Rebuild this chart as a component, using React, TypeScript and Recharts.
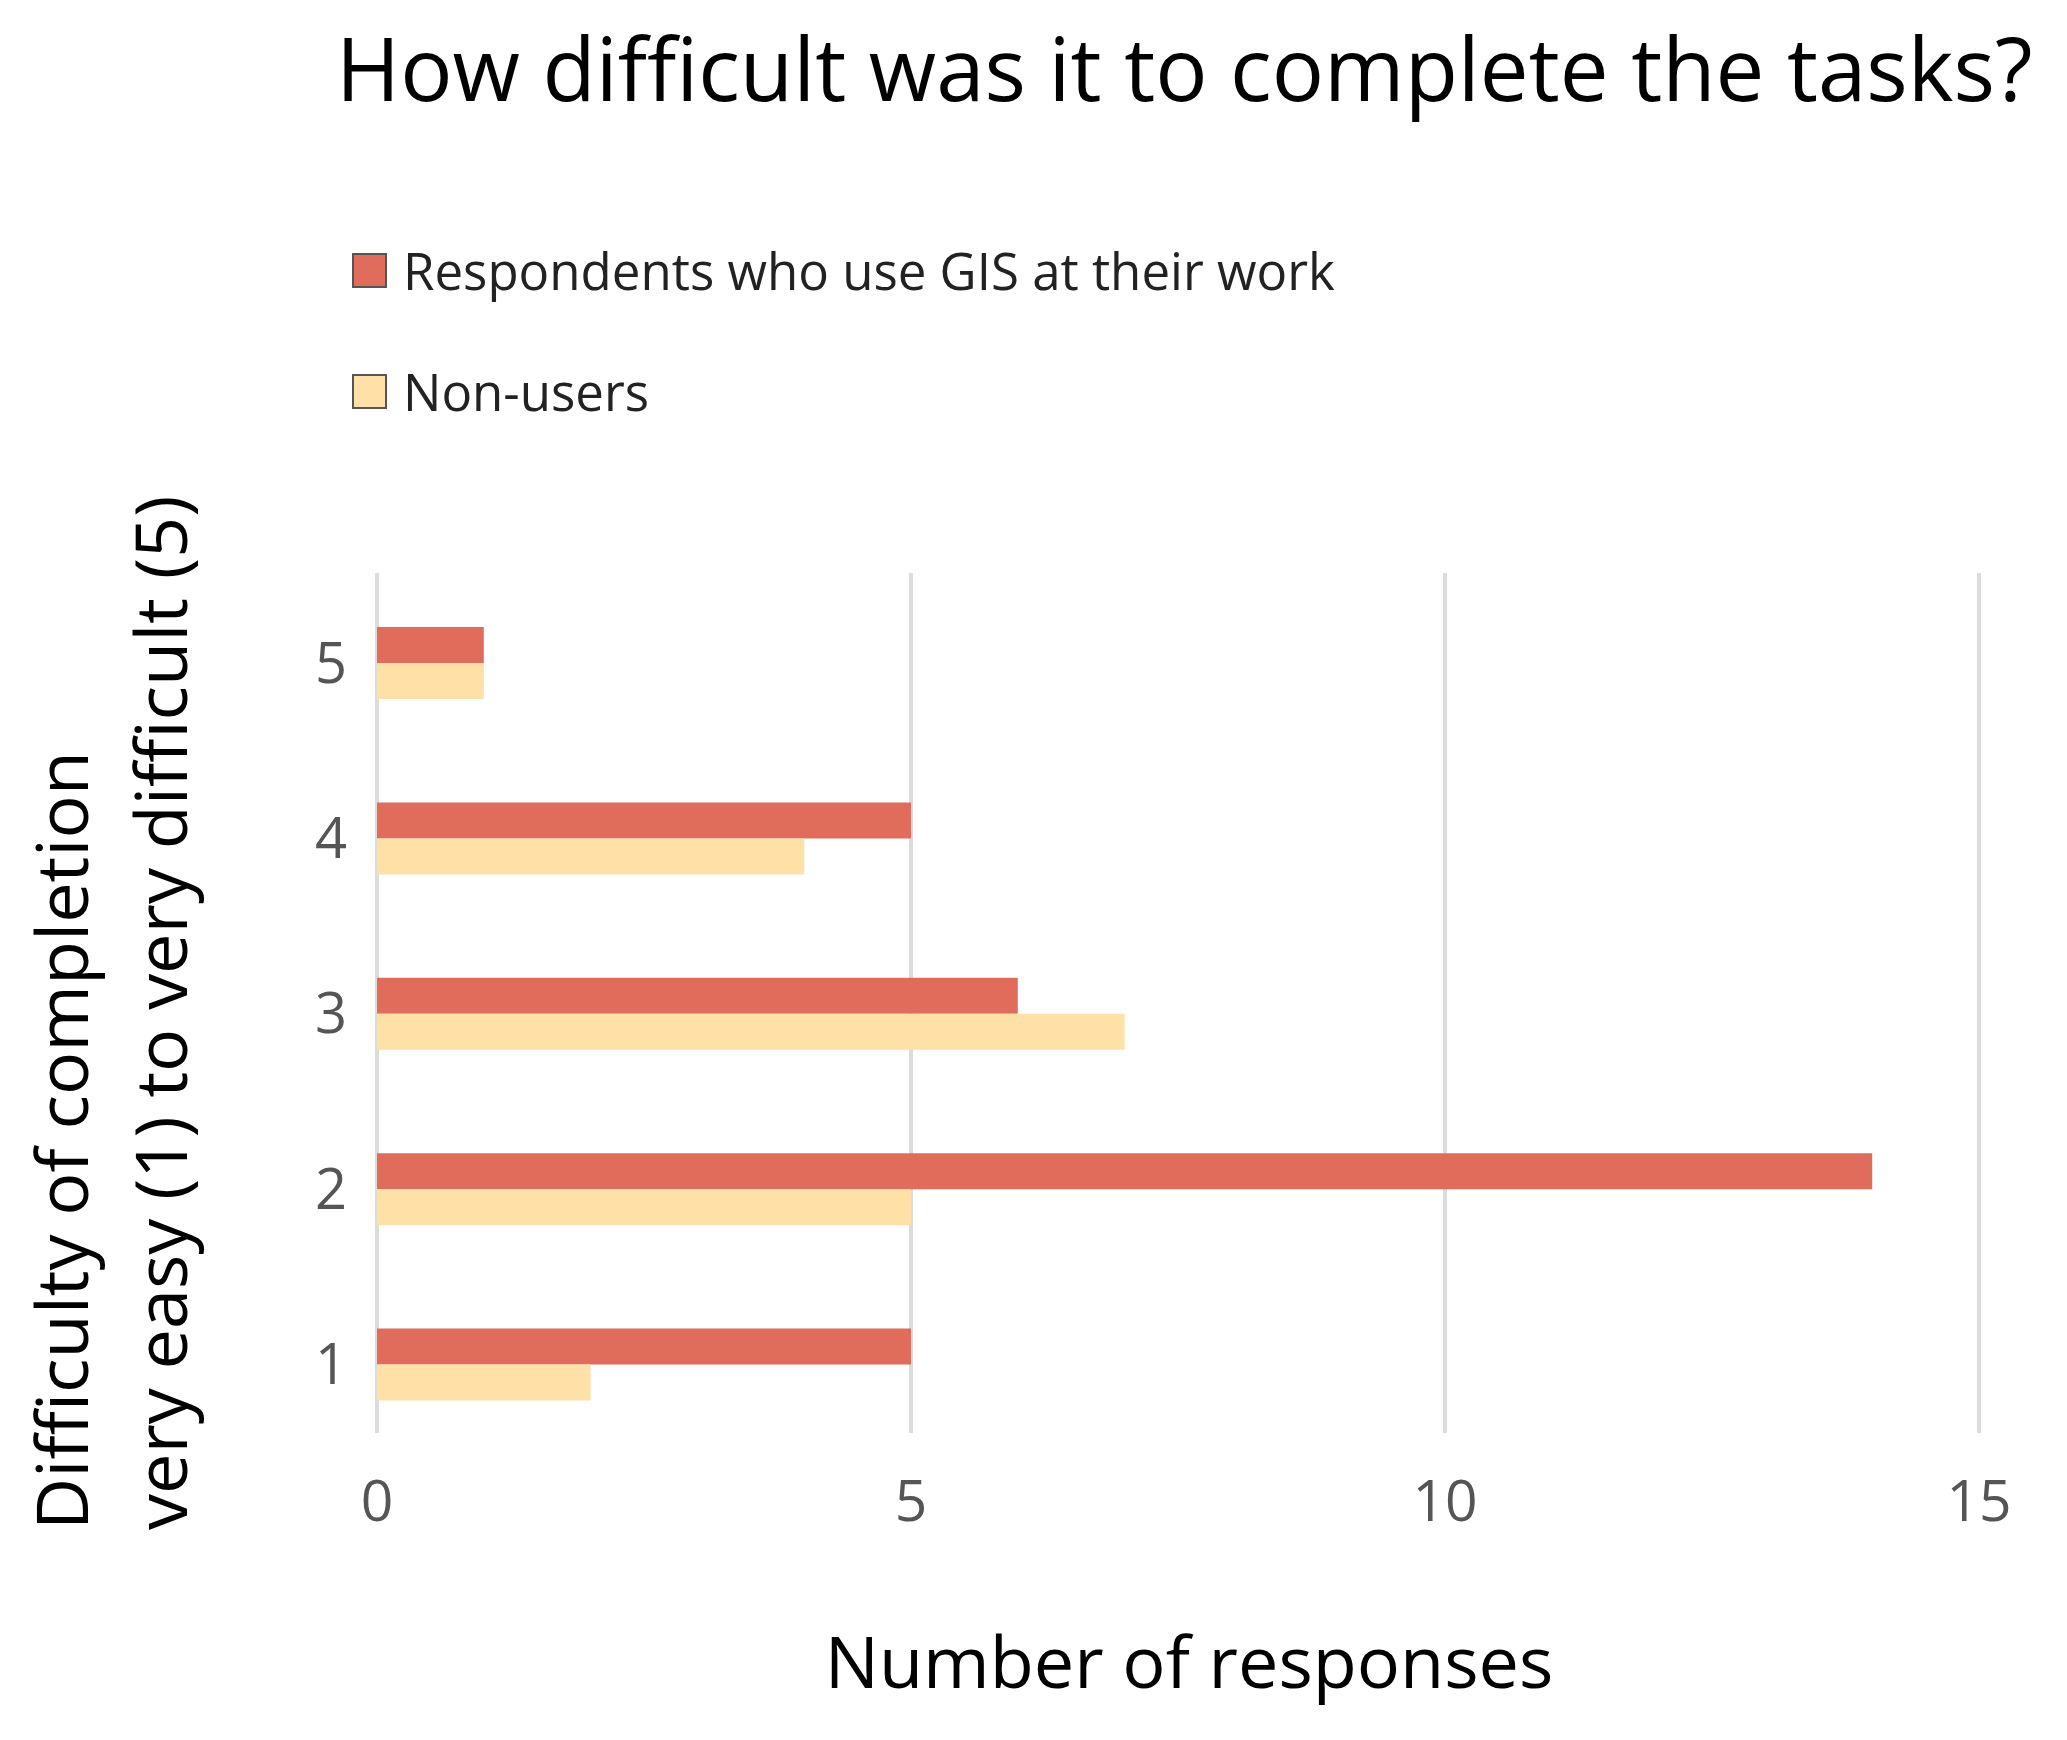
import React from "react";
import {
  BarChart,
  Bar,
  XAxis,
  YAxis,
  CartesianGrid,
  Legend,
} from "recharts";

const categories = ["5", "4", "3", "2", "1"];
const gisUsers = [1, 5, 6, 14, 5];
const nonUsers = [1, 4, 7, 5, 2];
const xTicks = [0, 5, 10, 15];

const seriesNames = ["Respondents who use GIS at their work", "Non-users"];
const seriesColors = ["#e06c5c", "#ffe0a6"];

const data = categories.map((c, i) => ({
  level: c,
  gis: gisUsers[i],
  non: nonUsers[i],
}));

const FONT = "'Open Sans', 'Noto Sans', sans-serif";

function LegendBox() {
  return (
    <div style={{ fontFamily: FONT }}>
      {seriesNames.map((name, i) => (
        <div key={name} style={{ display: "flex", alignItems: "center", height: 121 }}>
          <span
            style={{
              display: "inline-block",
              width: 31,
              height: 31,
              background: seriesColors[i],
              border: "2px solid #555",
              marginRight: 16,
            }}
          />
          <span style={{ fontSize: 51, color: "#222", lineHeight: 1 }}>{name}</span>
        </div>
      ))}
    </div>
  );
}

export default function App() {
  return (
    <div style={{ position: "absolute", left: 0, top: 0, width: 2067, height: 1740, background: "#fff" }}>
      <BarChart
        width={2067}
        height={1740}
        data={data}
        layout="vertical"
        margin={{ top: 575, right: 88, bottom: 258, left: 317 }}
        barGap={0}
      >
        <CartesianGrid
          horizontal={false}
          stroke="#dcdcdc"
          strokeWidth={4}
          y={573}
          height={860}
        />
        <XAxis
          type="number"
          domain={[0, 15]}
          ticks={xTicks}
          height={30}
          axisLine={false}
          tickLine={false}
          tick={{ fontSize: 57, fill: "#555", fontFamily: FONT }}
          tickMargin={23}
        />
        <YAxis
          type="category"
          dataKey="level"
          width={60}
          axisLine={false}
          tickLine={false}
          tick={{ fontSize: 56, fill: "#555", fontFamily: FONT }}
          tickMargin={24}
          interval={0}
        />
        <Legend
          layout="vertical"
          align="center"
          verticalAlign="middle"
          wrapperStyle={{ left: 352, top: 210, width: 1200 }}
          content={() => <LegendBox />}
        />
        <Bar dataKey="gis" name={seriesNames[0]} fill={seriesColors[0]} barSize={36} isAnimationActive={false} />
        <Bar dataKey="non" name={seriesNames[1]} fill={seriesColors[1]} barSize={36} isAnimationActive={false} />
      </BarChart>
      <svg
        width={2067}
        height={1740}
        style={{ position: "absolute", left: 0, top: 0, pointerEvents: "none" }}
      >
        <text x={336} y={101} fontSize={87} fontFamily={FONT} fill="#000">
          How difficult was it to complete the tasks?
        </text>
        <text x={1189} y={1688} fontSize={72} fontFamily={FONT} fill="#000" textAnchor="middle">
          Number of responses
        </text>
        <text
          x={88}
          y={1530}
          fontSize={72}
          fontFamily={FONT}
          fill="#000"
          transform="rotate(-90 88 1530)"
        >
          Difficulty of completion
        </text>
        <text
          x={187}
          y={1530}
          fontSize={72}
          fontFamily={FONT}
          fill="#000"
          transform="rotate(-90 187 1530)"
        >
          very easy (1) to very difficult (5)
        </text>
      </svg>
    </div>
  );
}
